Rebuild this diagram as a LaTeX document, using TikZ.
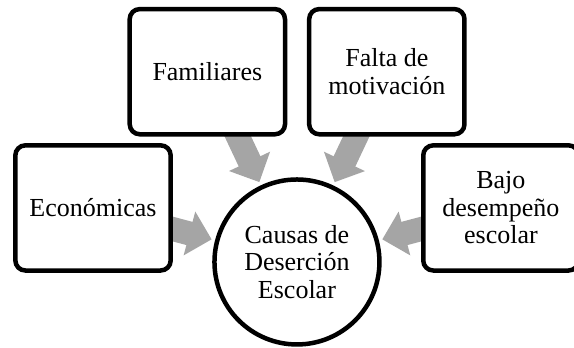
\documentclass[tikz,border=0pt]{standalone}
\usepackage{fontspec}
\setmainfont{Liberation Serif}
\usetikzlibrary{arrows.meta,backgrounds}
\definecolor{CauseGray}{HTML}{A5A5A5}
\newcommand{\causefont}{\fontsize{26}{27.5}\selectfont}
\tikzset{
  causebox/.style={
    draw=black,
    line width=4.5pt,
    fill=white,
    rounded corners=10pt,
    align=center,
    minimum width=5.46cm,
    minimum height=4.40cm,
    inner sep=2pt,
    font=\causefont
  },
  causecore/.style={
    circle,
    draw=black,
    line width=4.5pt,
    fill=white,
    align=center,
    minimum size=5.80cm,
    inner sep=0pt,
    font=\causefont
  },
  causeflow/.style={-{Triangle[width=44pt,length=23pt]},draw=CauseGray,line width=24pt,
    shorten <=-8pt,shorten >=3.5pt}
}

\begin{document}
\begin{tikzpicture}
  \useasboundingbox (0,0) rectangle (20.18,12.20);

  \node[causecore] (cause) at (10.44,2.99) {Causas de\\Deserción\\Escolar};
  \node[causebox] (fam) at (7.29,9.68) {Familiares};
  \node[causebox] (falta) at (13.60,9.68) {Falta de\\motivación};
  \node[causebox] (econ) at (3.27,4.89) {Económicas};
  \node[causebox] (bajo) at (17.61,4.89) {Bajo\\desempeño\\escolar};

  \begin{scope}[on background layer]
    \draw[causeflow] (fam) -- (cause);
    \draw[causeflow] (falta) -- (cause);
    \draw[causeflow] (econ) -- (cause);
    \draw[causeflow] (bajo) -- (cause);
  \end{scope}
\end{tikzpicture}
\end{document}
